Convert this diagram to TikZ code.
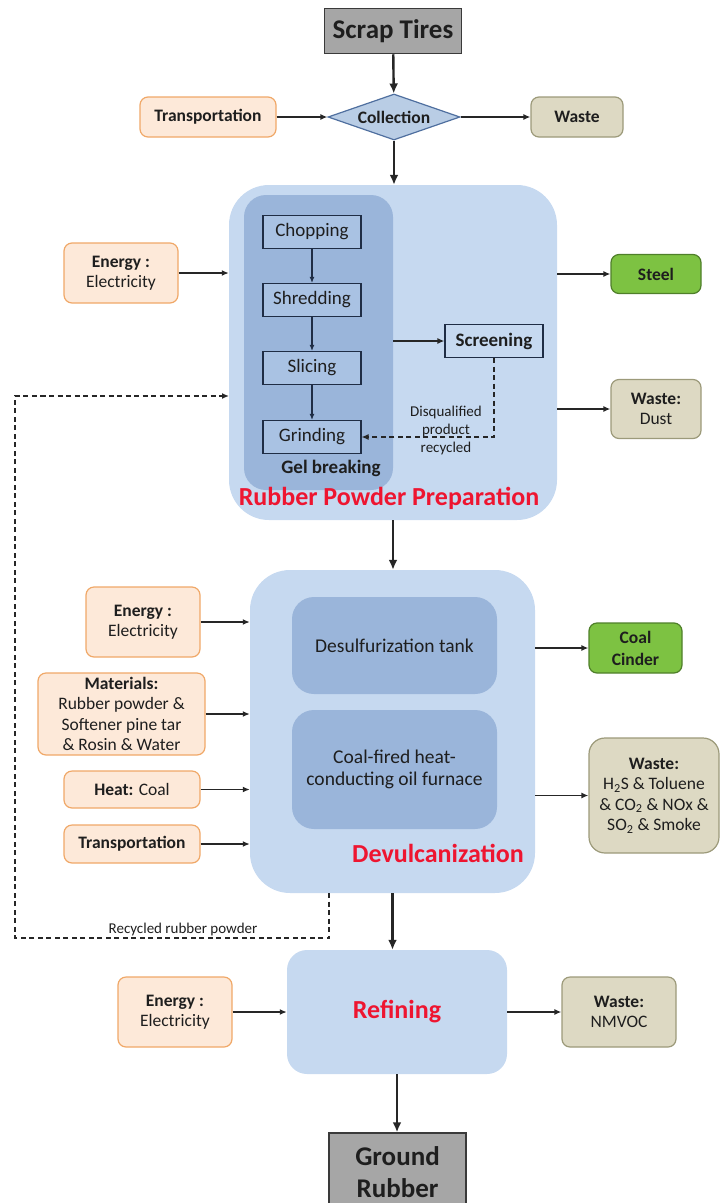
\documentclass[tikz,border=0pt]{standalone}
\usepackage{fontspec}
\setmainfont{Carlito}
\usepackage{xcolor}
\usetikzlibrary{shapes.geometric,arrows.meta}

\definecolor{txt}{HTML}{1E1E1E}
\definecolor{endfill}{HTML}{A6A6A6}
\definecolor{enddraw}{HTML}{3A3A3A}
\definecolor{infill}{HTML}{FDE9D9}
\definecolor{indraw}{HTML}{F0A868}
\definecolor{wfill}{HTML}{DDD9C3}
\definecolor{wdraw}{HTML}{9C9A7A}
\definecolor{sfill}{HTML}{7DC242}
\definecolor{sdraw}{HTML}{4F7F2A}
\definecolor{dmfill}{HTML}{B9CDE5}
\definecolor{dmdraw}{HTML}{4F6F9F}
\definecolor{stagefill}{HTML}{C6D9F0}
\definecolor{unitfill}{HTML}{9AB5DA}
\definecolor{stepfill}{HTML}{A9C2E3}
\definecolor{stepdraw}{HTML}{1F2D45}
\definecolor{redtxt}{HTML}{EE1530}
\definecolor{arrowc}{HTML}{262626}

\begin{document}
\begin{tikzpicture}[x=1pt,y=-1pt]
	\tikzstyle{every node}+=[inner sep=0pt, align=center, text=txt]
	\tikzstyle{endbox}=[rectangle, draw=enddraw, fill=endfill, line width=1.5pt, font=\bfseries\fontsize{27}{32}\selectfont]
	\tikzstyle{inbox}=[rectangle, rounded corners=8pt, draw=indraw, fill=infill, line width=1.2pt, font=\fontsize{17.5}{20.5}\selectfont]
	\tikzstyle{wastebox}=[rectangle, rounded corners=8pt, draw=wdraw, fill=wfill, line width=1.2pt, font=\fontsize{17.5}{20.5}\selectfont]
	\tikzstyle{steelbox}=[rectangle, rounded corners=8pt, draw=sdraw, fill=sfill, line width=1.2pt, font=\bfseries\fontsize{17.5}{22}\selectfont]
	\tikzstyle{stage}=[rectangle, rounded corners=40pt, fill=stagefill]
	\tikzstyle{unit}=[rectangle, rounded corners=22pt, fill=unitfill, font=\fontsize{19.5}{22}\selectfont]
	\tikzstyle{stepbox}=[rectangle, draw=stepdraw, fill=stepfill, line width=1.2pt, minimum width=98pt, minimum height=33pt, font=\fontsize{19}{20}\selectfont]
	\tikzstyle{title}=[font=\bfseries\fontsize{26}{30}\selectfont, text=redtxt]
	\tikzstyle{flow}=[draw=arrowc, line width=1.4pt, -{Latex[length=7pt,width=6pt]}]
	\tikzstyle{mainflow}=[draw=arrowc, line width=2.4pt, -{Latex[length=10pt,width=9pt]}]
	\tikzstyle{stepflow}=[draw=stepdraw, line width=1.1pt, -{Latex[length=6pt,width=5pt]}]
	\tikzstyle{backflow}=[draw=arrowc, line width=1.4pt, dash pattern=on 5pt off 3.5pt, -{Latex[length=7pt,width=6pt]}]
	\useasboundingbox (0,0) rectangle (721,1203);

	\node[endbox, minimum width=137pt, minimum height=45pt] (tires) at (393,31) {Scrap Tires};
	\node[diamond, aspect=2.87, draw=dmdraw, fill=dmfill, line width=1.2pt, minimum width=132pt, minimum height=46pt, font=\bfseries\fontsize{17.5}{20}\selectfont] (collect) at (394,117) {Collection};
	\node[inbox, minimum width=136pt, minimum height=40pt, font=\bfseries\fontsize{17.5}{20}\selectfont] (transp1) at (208,117) {Transportation};
	\node[wastebox, minimum width=92pt, minimum height=40pt, font=\bfseries\fontsize{17.5}{20}\selectfont] (waste1) at (577,117) {Waste};

	\node[stage, minimum width=328pt, minimum height=335pt] (rpp) at (393,352.5) {};
	\node[unit, minimum width=149pt, minimum height=295pt] (gel) at (318.5,342.5) {};
	\node[stepbox] (chop) at (312,232) {Chopping};
	\node[stepbox] (shred) at (312,300) {Shredding};
	\node[stepbox] (slice) at (312,368) {Slicing};
	\node[stepbox] (grind) at (312,437) {Grinding};
	\node[font=\bfseries\fontsize{19}{20}\selectfont] (gellab) at (331,468) {Gel breaking};
	\node[stepbox, fill=stagefill, font=\bfseries\fontsize{19}{20}\selectfont] (screen) at (494,341) {Screening};
	\node[font=\fontsize{15}{18}\selectfont] (disq) at (446,430) {Disqualified\\product\\recycled};
	\node[title] (rpplab) at (389,498) {Rubber Powder Preparation};
	\node[inbox, minimum width=114pt, minimum height=60pt] (energy1) at (121,273) {\textbf{Energy :}\\Electricity};
	\node[steelbox, minimum width=90pt, minimum height=39pt] (steel) at (656,274) {Steel};
	\node[wastebox, minimum width=90pt, minimum height=59pt] (dust) at (656,409) {\textbf{Waste:}\\Dust};

	\node[stage, minimum width=285pt, minimum height=323pt] (devul) at (392.5,731.5) {};
	\node[unit, minimum width=205pt, minimum height=97pt] (desulf) at (394.5,645.5) {Desulfurization tank};
	\node[unit, minimum width=205pt, minimum height=119pt] (furnace) at (394.5,769.5) {Coal-fired heat-\\conducting oil furnace};
	\node[title] (devlab) at (438,853) {Devulcanization};
	\node[inbox, minimum width=114pt, minimum height=70pt] (energy2) at (143,622) {\textbf{Energy :}\\Electricity};
	\node[inbox, minimum width=167pt, minimum height=82pt] (mater) at (121.5,714) {\textbf{Materials:}\\Rubber powder \&\\Softener pine tar\\\& Rosin \& Water};
	\node[inbox, minimum width=136pt, minimum height=37pt] (heat) at (132,789.5) {\textbf{Heat:} Coal};
	\node[inbox, minimum width=136pt, minimum height=38pt, font=\bfseries\fontsize{17.5}{20}\selectfont] (transp2) at (132,844) {Transportation};
	\node[steelbox, minimum width=93pt, minimum height=50pt] (cinder) at (635.5,648) {Coal\\Cinder};
	\node[wastebox, rounded corners=16pt, minimum width=130pt, minimum height=115pt] (waste2) at (654,795.5) {\textbf{Waste:}\\H\textsubscript{2}S \& Toluene\\\& CO\textsubscript{2} \& NOx \&\\SO\textsubscript{2} \& Smoke};
	\coordinate (recyc) at (329,893);
	\coordinate (loopl) at (15,938);
	\coordinate (rppin) at (229,396);
	\node[font=\fontsize{15}{16}\selectfont] (recyclab) at (183,929) {Recycled rubber powder};

	\node[stage, rounded corners=20pt, minimum width=220pt, minimum height=124pt, title] (refine) at (397,1012) {Refining};
	\node[inbox, minimum width=114pt, minimum height=70pt] (energy3) at (175,1012) {\textbf{Energy :}\\Electricity};
	\node[wastebox, minimum width=114pt, minimum height=70pt] (nmvoc) at (619,1012) {\textbf{Waste:}\\NMVOC};
	\node[endbox, minimum width=137pt, minimum height=78pt] (ground) at (397.5,1172) {Ground\\Rubber};

	\draw[mainflow] (tires) -- (collect);
	\draw[flow] (transp1) -- (collect);
	\draw[flow] (collect) -- (waste1);
	\draw[mainflow] (collect.south) -- (collect.south |- rpp.north);
	\draw[flow] (energy1.east) -- (rpp.west |- energy1.east);
	\draw[flow] (rpp.east |- steel.west) -- (steel.west);
	\draw[flow] (rpp.east |- dust.west) -- (dust.west);
	\draw[stepflow] (chop) -- (shred);
	\draw[stepflow] (shred) -- (slice);
	\draw[stepflow] (slice) -- (grind);
	\draw[flow] (gel.east |- screen.west) -- (screen.west);
	\draw[backflow, line width=1.1pt] (screen.south) |- (grind.east);
	\draw[mainflow] (rpp.south) -- (rpp.south |- devul.north);
	\draw[flow] (energy2.east) -- (devul.west |- energy2.east);
	\draw[flow] (mater.east) -- (devul.west |- mater.east);
	\draw[flow] (heat.east) -- (devul.west |- heat.east);
	\draw[flow] (transp2.east) -- (devul.west |- transp2.east);
	\draw[flow] (devul.east |- cinder.west) -- (cinder.west);
	\draw[flow] (devul.east |- waste2.west) -- (waste2.west);
	\draw[backflow] (recyc) |- (loopl) |- (rppin);
	\draw[mainflow] (devul.south) -- (devul.south |- refine.north);
	\draw[flow] (energy3.east) -- (refine.west |- energy3.east);
	\draw[flow] (refine.east |- nmvoc.west) -- (nmvoc.west);
	\draw[mainflow] (refine.south) -- (refine.south |- ground.north);
\end{tikzpicture}
\end{document}
